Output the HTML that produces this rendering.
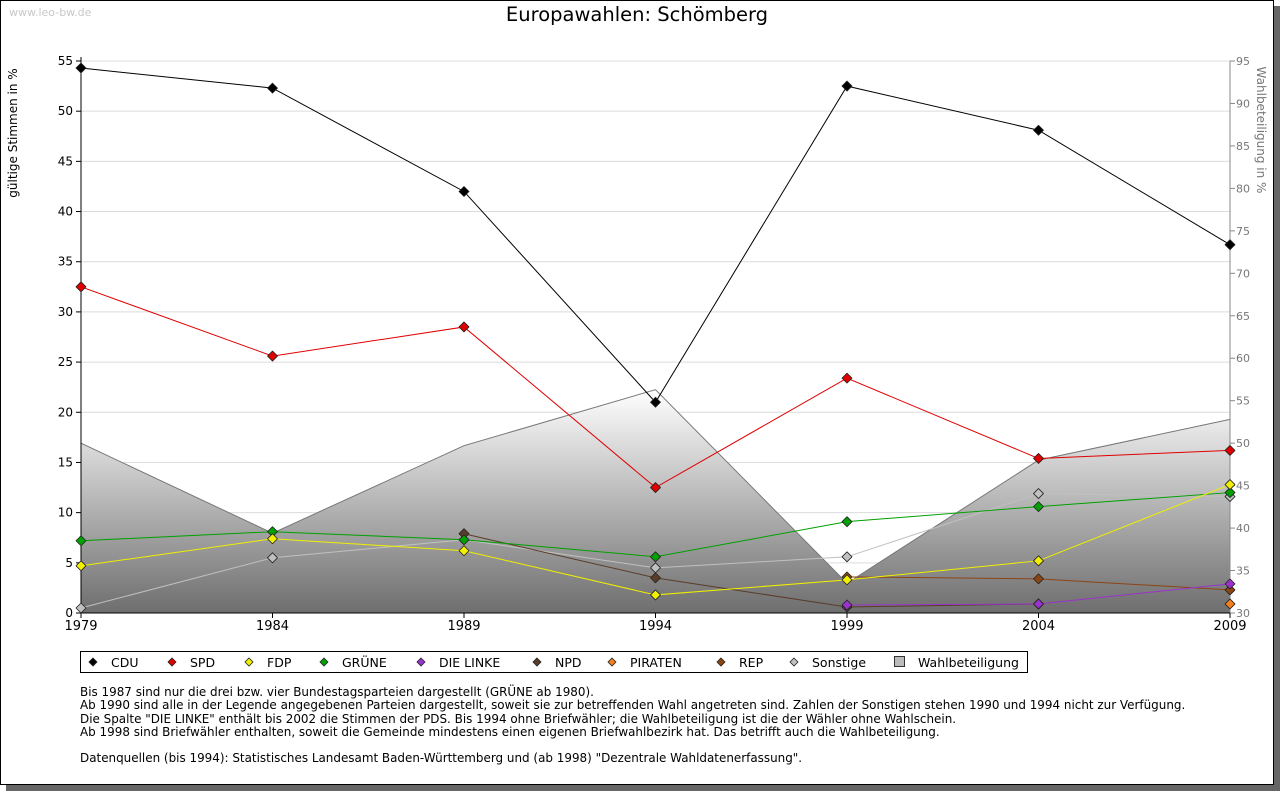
<!DOCTYPE html>
<html><head><meta charset="utf-8"><style>
body{margin:0;width:1280px;height:791px;overflow:hidden;background:#fff;font-family:"DejaVu Sans","Liberation Sans",sans-serif}
#shadow{position:absolute;left:6px;top:6px;width:1274px;height:785px;background:#666}
#frame{position:absolute;left:0;top:0;width:1272px;height:783px;background:#fff;border:1px solid #000}
svg{position:absolute;left:0;top:0;font-family:"DejaVu Sans","Liberation Sans",sans-serif}
.note{position:absolute;left:80px;top:686px;font-size:11.95px;line-height:13.3px;color:#000;white-space:pre}
</style></head><body>
<div id="shadow"></div>
<div id="frame"></div>
<svg id="chart" width="1280" height="791"></svg>
<div class="note">Bis 1987 sind nur die drei bzw. vier Bundestagsparteien dargestellt (GRÜNE ab 1980).
Ab 1990 sind alle in der Legende angegebenen Parteien dargestellt, soweit sie zur betreffenden Wahl angetreten sind. Zahlen der Sonstigen stehen 1990 und 1994 nicht zur Verfügung.
Die Spalte "DIE LINKE" enthält bis 2002 die Stimmen der PDS. Bis 1994 ohne Briefwähler; die Wahlbeteiligung ist die der Wähler ohne Wahlschein.
Ab 1998 sind Briefwähler enthalten, soweit die Gemeinde mindestens einen eigenen Briefwahlbezirk hat. Das betrifft auch die Wahlbeteiligung.

Datenquellen (bis 1994): Statistisches Landesamt Baden-Württemberg und (ab 1998) "Dezentrale Wahldatenerfassung".</div>
<script>
const years=[1979,1984,1989,1994,1999,2004,2009];
const cdu=[54.3,52.3,42.0,21.0,52.5,48.1,36.7];
const spd=[32.5,25.6,28.5,12.5,23.4,15.4,16.2];
const fdp=[4.7,7.4,6.2,1.8,3.3,5.2,12.8];
const gruene=[7.2,8.1,7.3,5.6,9.1,10.6,12.0];
const linke=[null,null,null,null,0.8,0.9,2.9];
const npd=[null,null,7.9,3.5,0.6,0.9,null];
const piraten=[null,null,null,null,null,null,0.9];
const rep=[null,null,null,null,3.6,3.4,2.3];
const sonstige=[0.5,5.5,7.3,4.5,5.6,11.9,11.6];
const turnout=[50.0,39.4,49.7,56.3,33.5,48.0,52.8];
const leftTicks=[0,5,10,15,20,25,30,35,40,45,50,55];
const rightTicks=[30,35,40,45,50,55,60,65,70,75,80,85,90,95];

const NS="http://www.w3.org/2000/svg";
const svg=document.getElementById('chart');
const X0=81,X1=1230,Y0=613,Y1=61;
const xs=y=>X0+(y-1979)/(2009-1979)*(X1-X0);
const yl=v=>Y0-v/55*(Y0-Y1);
const yr=v=>Y0-(v-30)/65*(Y0-Y1);
function el(t,a,p){const e=document.createElementNS(NS,t);for(const k in a)e.setAttribute(k,a[k]);(p||svg).appendChild(e);return e;}
function diamond(cx,cy,r){return `M${cx},${cy-r} L${cx+r},${cy} L${cx},${cy+r} L${cx-r},${cy}Z`;}

const defs=el('defs',{});
const g=el('linearGradient',{id:'tg',gradientUnits:'userSpaceOnUse',x1:0,x2:0},defs);
g.setAttribute('y1',yr(Math.max(...turnout)));g.setAttribute('y2',Y0);
el('stop',{offset:'0','stop-color':'#ffffff'},g);
el('stop',{offset:'1','stop-color':'#6e6e6e'},g);

let t=el('text',{x:637,y:21,'text-anchor':'middle','font-size':19.5});t.textContent='Europawahlen: Schömberg';

t=el('text',{x:9,y:16,'font-size':11,fill:'#c8c8c8'});t.textContent='www.leo-bw.de';


leftTicks.forEach(v=>{
  el('line',{x1:X0,x2:X1,y1:yl(v),y2:yl(v),stroke:'#dcdcdc'});
  const l=el('text',{x:X0-8,y:yl(v)+4,'text-anchor':'end','font-size':12});l.textContent=v;
  
  el('line',{x1:X0-5,x2:X0,y1:yl(v),y2:yl(v),stroke:'#000'});
});
let d='M'+X0+','+Y0;years.forEach((y,i)=>d+=' L'+xs(y)+','+yr(turnout[i]));d+=' L'+X1+','+Y0+'Z';
const area=el('path',{d:d,fill:'url(#tg)',stroke:'#777','stroke-width':1});

el('line',{x1:X1,x2:X1,y1:Y1,y2:Y0,stroke:'#888'});
rightTicks.forEach(v=>{
  el('line',{x1:X1,x2:X1+5,y1:yr(v),y2:yr(v),stroke:'#888'});
  const l=el('text',{x:X1+6,y:yr(v)+4,'font-size':11,fill:'#777'});l.textContent=v;
  
});
el('line',{x1:X0,x2:X0,y1:Y1-4,y2:Y0,stroke:'#000'});
el('line',{x1:X0,x2:X1,y1:Y0,y2:Y0,stroke:'#000'});
years.forEach(y=>{
  el('line',{x1:xs(y),x2:xs(y),y1:Y0,y2:Y0+5,stroke:'#000'});
  const l=el('text',{x:xs(y),y:Y0+17,'text-anchor':'middle','font-size':13});l.textContent=y;
  
});
t=el('text',{transform:'translate(17,133) rotate(-90)','text-anchor':'middle','font-size':12});t.textContent='gültige Stimmen in %';

t=el('text',{transform:'translate(1257,130) rotate(90)','text-anchor':'middle','font-size':12,fill:'#777'});t.textContent='Wahlbeteiligung in %';


const series=[['sonstige',sonstige,'#c0c0c0'],['rep',rep,'#8b4513'],['piraten',piraten,'#f08020'],['npd',npd,'#5a3c28'],['linke',linke,'#9933cc'],['gruene',gruene,'#00a000'],['fdp',fdp,'#f0f000'],['spd',spd,'#e00000'],['cdu',cdu,'#000000']];
series.forEach(([n,arr,c])=>{
  let pd='',pen=false;
  arr.forEach((v,i)=>{if(v==null){pen=false;return;}pd+=(pen?' L':' M')+xs(years[i])+','+yl(v);pen=true;});
  const p=el('path',{d:pd,fill:'none',stroke:c,'stroke-width':1});
  
  arr.forEach((v,i)=>{if(v==null)return;
    const m=el('path',{d:diamond(xs(years[i]),yl(v),5),fill:c,stroke:'#222','stroke-width':0.8,'stroke-linejoin':'round'});
    
  });
});
const lg=el('g',{});
el('rect',{x:80.5,y:651.5,width:947,height:21,fill:'#fff',stroke:'#000'},lg);
const items=[['CDU','#000',93],['SPD','#e00000',172],['FDP','#f0f000',249],['GRÜNE','#00a000',324],['DIE LINKE','#9933cc',421],['NPD','#5a3c28',537],['PIRATEN','#f08020',612],['REP','#8b4513',721],['Sonstige','#c0c0c0',794]];
items.forEach(([n,c,x])=>{
  const e=el('path',{d:diamond(x,662,4),fill:c,stroke:'#222','stroke-width':0.8},lg);
  
  const l=el('text',{x:x+18,y:667,'font-size':12.5},lg);l.textContent=n;
  
});
el('rect',{x:894.5,y:656.5,width:10,height:10,fill:'#bbb',stroke:'#333'},lg);
t=el('text',{x:918,y:667,'font-size':12.5},lg);t.textContent='Wahlbeteiligung';

</script>
</body></html>
